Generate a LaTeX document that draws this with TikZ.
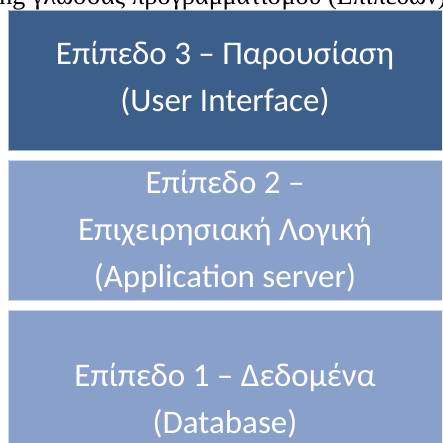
\documentclass[tikz,border=0pt]{standalone}
\usepackage{fontspec}
\setmainfont{Carlito}
\newfontfamily\serifgr{Liberation Serif}
\definecolor{darkbox}{HTML}{3B5E8B}
\definecolor{lightbox}{HTML}{89A1CA}
\begin{document}
\begin{tikzpicture}[x=1pt,y=-1pt,
  layer/.style={draw=white!55!#1, line width=0.8pt, fill=#1},
  label/.style={text=white, align=center, inner sep=0pt,
    font=\fontsize{33}{47}\selectfont},
  cut/.style={anchor=base west, inner sep=0pt, text=black,
    font=\serifgr\fontsize{26}{30}\selectfont}]
\clip (0,0) rectangle (442,443);
\fill[white] (0,0) rectangle (442,443);
\node[cut] (head) at (-8,4.5) {ing γλώσσας προγραμματισμού (Επιπέδων)};
\path[layer=darkbox] (8,10) rectangle (446,150);
\node[label] (l3) at (225,79) {Επίπεδο 3 – Παρουσίαση\\(User Interface)};
\path[layer=lightbox] (8,160) rectangle (446,300);
\node[label] (l2) at (225,232) {Επίπεδο 2 –\\Επιχειρησιακή Λογική\\(Application server)};
\path[layer=lightbox] (8,310) rectangle (446,452);
\node[label] (l1) at (225,401) {Επίπεδο 1 – Δεδομένα\\(Database)};
\end{tikzpicture}
\end{document}
